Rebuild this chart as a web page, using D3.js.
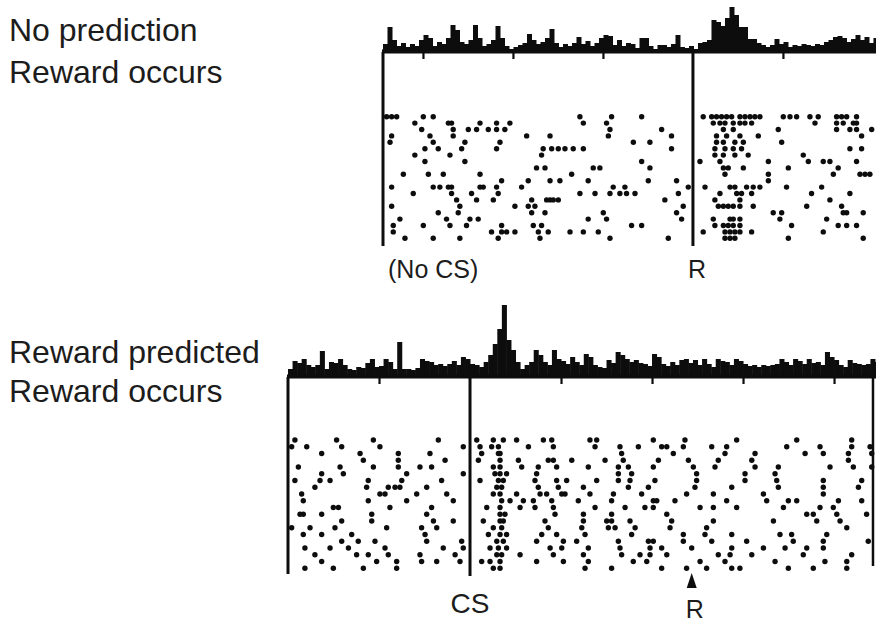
<!DOCTYPE html>
<html><head><meta charset="utf-8">
<script src="https://cdn.jsdelivr.net/npm/d3@7"></script>
<style>
body{margin:0;background:#fff}
svg{display:block}
text{font-family:"Liberation Sans",Arial,sans-serif;fill:#1c1c1c}
</style>
</head><body>
<svg id="chart" width="876" height="624"></svg>
<script>
// ---------------- DATA ----------------
const panelTitles1 = ["No prediction", "Reward occurs"];
const panelTitles2 = ["Reward predicted", "Reward occurs"];
const eventLabels1 = ["(No CS)", "R"];
const eventLabels2 = ["CS", "R"];

const tickTimes1 = [-1500, -1000, -500, 500];          // ms, relative to reward
const tickTimes2 = [-500, 500, 1000, 1500, 2000];      // ms, relative to CS
const rewardTime2 = 1218;                              // ms after CS

const binWidthMs = 25;
const hist1Start = -1722;
const hist1 = [8,25,12,6,9,5,8,6,12,17, 14,6,10,8,14,27,22,10,8,12, 27,14,6,8,12,26,14,6,3,5,
  7,9,18,12,8,10,14,23,9,5, 8,6,9,15,8,11,6,9,14,17, 16,7,12,6,9,8,4,14,14,6,
  3,7,7,5,8,17,5,4,6,3, 9,10,12,32,30,26,34,45,37,25, 25,13,13,9,7,5,7,13,8,10,
  5,7,6,8,7,6,8,7,10,12, 15,16,14,10,13,17,12,15,9,14];
const hist2Start = -1000;
const hist2 = [8,16,14,18,12,10,12,26,8,15, 14,18,12,8,7,10,9,14,18,10, 11,18,15,8,35,8,8,7,9,18,
  16,15,12,13,11,13,16,12,20,18, 13,12,10,15,22,33,48,72,37,27, 15,8,12,15,27,22,15,12,27,18,
  16,13,20,15,12,23,20,12,10,9, 17,14,25,22,18,15,17,14,13,11, 23,20,13,11,15,12,17,18,14,17,
  12,18,13,10,18,16,15,12,18,16, 13,11,12,10,12,11,12,13,18,15, 12,18,16,13,18,14,15,12,25,20,
  17,12,10,17,14,13,12,13,18,15, 13];

// spike times (ms) per trial, panel 1 (aligned on reward)
const raster1 = [
  [-1702,-1674,-1646,-1498,-1443,-628,-452,-285,57,104,131,159,187,215,261,289,317,344,372,502,539,576,650,696,798,826,854,909],
  [-1545,-1359,-1341,-1183,-1091,-1017,-609,-480,113,150,178,224,261,289,326,678,798,835,891,909],
  [-1507,-1332,-1248,-1202,-1137,-1091,-1045,-461,-174,169,224,474,798,872,909,993],
  [-1674,-1461,-1332,-924,-794,-470,-119,131,187,261,363,937],
  [-1683,-1443,-1267,-1072,-331,-239,131,169,233,280,493],
  [-1489,-1415,-1285,-1091,-832,-785,-748,-711,-665,-609,-119,122,178,224,270,872,937],
  [-1545,-1350,-841,122,169,233,307,613],
  [-1489,-1267,-285,39,150,419,641,724,761,909],
  [-869,-822,-554,-517,-239,169,196,280,530,807],
  [-1609,-1470,-1387,-1183,-674,178,419,780,928,956,983],
  [-1063,-915,-794,-739,-582,-248,-91,419],
  [-1674,-1443,-1406,-1359,-1341,-1183,-1165,-1091,-952,-443,-378,-26,67,206,233,298,335,372,520,715],
  [-1554,-1341,-1230,-1082,-628,-544,-461,-406,-369,-322,-81,150,243,270,326,659,872],
  [-1313,-1202,-1109,-896,-813,-794,-776,-748,-156,122,261,761],
  [-1674,-1295,-989,-915,-878,-54,141,169,196,224,261,335,632,826],
  [-1415,-1304,-896,-822,-498,-91,446,493,835,854,946],
  [-1628,-1369,-1239,-1193,-582,-480,-63,113,206,224,261,483,743],
  [-1665,-1498,-1350,-1258,-1063,-887,-841,-341,-285,122,169,196,224,261,548,807,854,909],
  [-1665,-1119,-1063,-1035,-989,-859,-804,-683,-609,-526,57,178,206,233,261,326,724],
  [-1600,-1443,-1295,-1082,-850,-461,-137,178,206,233,530,946]
];

// spike times (ms) per trial, panel 2 (aligned on CS)
const raster2 = [
  [-962,-733,-531,-174,37,128,183,256,403,449,659,696,1007,1181,1465,1795,2097],
  [-980,-897,-705,-495,-37,55,119,156,321,458,687,824,925,1053,1081,1172,1328,1410,1740,1923,2097,2198],
  [-815,-604,-394,-220,64,156,165,833,1117,1401,1566,1841,1941,2079,2207],
  [-586,-394,-137,46,165,266,430,458,559,742,842,1035,1200,1364,1548,2079],
  [-943,-714,-531,-394,-275,-211,128,165,284,375,476,650,815,870,1007,1227,1346,1566,1694,1978,2106,2207],
  [-815,-696,-348,-37,137,165,201,366,815,888,1245,1511,1676],
  [-962,-824,-769,-559,-375,-156,55,156,183,357,476,531,696,815,879,1016,1245,1511,1685,1941,2152],
  [-852,-568,-449,-412,-385,-238,147,174,375,485,623,870,980,1236,1438,1694,1941,2134],
  [-925,-495,-467,-293,-128,128,165,256,385,421,504,522,659,788,943,1190,1337,1612,1941],
  [-916,-559,-348,-92,174,220,293,348,449,595,778,1007,1026,1126,1410,1630,1749,1795,2024,2152],
  [-751,-723,-440,-211,92,165,275,357,458,687,852,961,1007,1264,1337,1465,1722,1923,1996],
  [-934,-916,-815,-540,-238,165,192,467,623,778,1081,1850,1886,2015,2179],
  [-705,-540,-201,-92,73,165,183,412,623,751,778,879,1108,1337,1667,1905,2033],
  [-980,-879,-742,-458,-266,-183,128,174,430,614,760,797,907,1099,1300,2070],
  [-916,-815,-650,-247,101,165,201,394,476,632,888,1172,1291,1438,1703,1767,1960],
  [-705,-614,-522,-238,-46,147,183,366,513,586,815,980,1007,1172,1328,1520,1776,1941,2188],
  [-907,-769,-668,-467,-147,-37,110,156,201,440,504,650,824,989,1053,1218,1438,1612,1731,1850,1941],
  [-852,-623,-559,-449,-275,-82,147,174,275,458,623,833,934,989,1081,1364,1429,1548,1831,2097],
  [-815,-513,-403,-266,-183,-55,64,110,165,366,513,650,897,971,1264,1401,1676,1950,2070],
  [-907,-751,-586,-403,128,165,632,778,1053,1190,1300,1438,1483,1749,1886,2070]
];

// ---------------- DRAW ----------------
const svg = d3.select("#chart");
const ink = "#0d0d0d";

function drawPanel(cfg) {
  const g = svg.append("g");
  const x = d3.scaleLinear().domain(cfg.domain).range(cfg.range);
  const yH = d3.scaleLinear().domain([0, 80]).range([cfg.baseline, cfg.baseline - 80]);
  const yR = d3.scaleLinear().domain([0, cfg.raster.length - 1]).range(cfg.rowRange);

  // histogram
  g.append("g").selectAll("rect").data(cfg.hist).join("rect")
    .attr("x", (d, i) => x(cfg.histStart + i * binWidthMs))
    .attr("width", (d, i) => x(cfg.histStart + (i + 1) * binWidthMs) - x(cfg.histStart + i * binWidthMs) + 0.5)
    .attr("y", d => yH(d))
    .attr("height", d => cfg.baseline - yH(d))
    .attr("fill", ink);

  // baseline
  g.append("line")
    .attr("x1", x(cfg.domain[0]) - 1).attr("x2", 880)
    .attr("y1", cfg.baseline - 0.5).attr("y2", cfg.baseline - 0.5)
    .attr("stroke", ink).attr("stroke-width", 4);

  // ticks
  const ax = d3.axisBottom(x).tickValues(cfg.ticks).tickSize(7).tickFormat("");
  const axg = g.append("g").attr("transform", `translate(0,${cfg.baseline})`).call(ax);
  axg.select(".domain").remove();
  axg.selectAll(".tick line").attr("stroke", ink).attr("stroke-width", 2.2);

  // vertical lines
  g.append("line")
    .attr("x1", x(cfg.domain[0])).attr("x2", x(cfg.domain[0]))
    .attr("y1", cfg.baseline).attr("y2", cfg.leftBottom)
    .attr("stroke", ink).attr("stroke-width", 3);
  g.append("line")
    .attr("x1", x(0)).attr("x2", x(0))
    .attr("y1", cfg.baseline).attr("y2", cfg.eventBottom)
    .attr("stroke", ink).attr("stroke-width", 3);
  if (cfg.rightLine) {
    g.append("line")
      .attr("x1", x(cfg.rightLine)).attr("x2", x(cfg.rightLine))
      .attr("y1", cfg.baseline).attr("y2", cfg.rightBottom)
      .attr("stroke", ink).attr("stroke-width", 2.5);
  }

  // raster dots
  const pts = [];
  cfg.raster.forEach((row, trial) => row.forEach(t => pts.push({t, trial})));
  g.append("g").selectAll("circle").data(pts).join("circle")
    .attr("cx", d => x(d.t)).attr("cy", d => yR(d.trial))
    .attr("r", 2.7).attr("fill", ink);

  return x;
}

const x1 = drawPanel({
  domain: [-1722, 1017], range: [383, 876], baseline: 52,
  hist: hist1, histStart: hist1Start, ticks: tickTimes1,
  raster: raster1, rowRange: [116.7, 238.3],
  leftBottom: 246, eventBottom: 246
});

const x2 = drawPanel({
  domain: [-1000, 2230], range: [288, 875.9], baseline: 377,
  hist: hist2, histStart: hist2Start, ticks: tickTimes2,
  raster: raster2, rowRange: [440, 568.3],
  leftBottom: 574, eventBottom: 576, rightLine: 2214, rightBottom: 566
});

// text
const fs = 32;
svg.append("text").attr("x", 9).attr("y", 41).attr("font-size", fs).text(panelTitles1[0]);
svg.append("text").attr("x", 9).attr("y", 83).attr("font-size", fs).text(panelTitles1[1]);
svg.append("text").attr("x", 9).attr("y", 363).attr("font-size", fs).text(panelTitles2[0]);
svg.append("text").attr("x", 9).attr("y", 402).attr("font-size", fs).text(panelTitles2[1]);

svg.append("text").attr("x", x1(-1722) + 5).attr("y", 278).attr("font-size", 25).text(eventLabels1[0]);
svg.append("text").attr("x", x1(0) + 4).attr("y", 278).attr("font-size", 25).attr("text-anchor", "middle").text(eventLabels1[1]);

svg.append("text").attr("x", x2(0)).attr("y", 613).attr("font-size", 28).attr("text-anchor", "middle").text(eventLabels2[0]);
const rx = x2(rewardTime2);
svg.append("path")
  .attr("d", `M${rx},573 L${rx - 5},588 L${rx + 5},588 Z`).attr("fill", ink);
svg.append("text").attr("x", rx + 3).attr("y", 618).attr("font-size", 25).attr("text-anchor", "middle").text(eventLabels2[1]);
</script>
</body></html>
